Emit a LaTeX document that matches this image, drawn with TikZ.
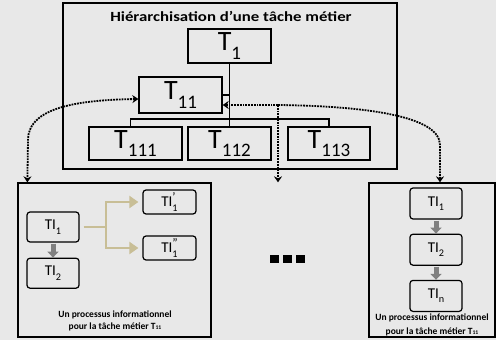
\documentclass[tikz,border=0pt]{standalone}
\usepackage{fontspec}
\setmainfont{Carlito}
\usepackage{graphicx}
\usetikzlibrary{arrows.meta, positioning}
\definecolor{bgGray}{RGB}{232, 232, 232}
\definecolor{flowTan}{RGB}{200, 190, 150}
\definecolor{flowGray}{RGB}{128, 128, 128}
\newcommand{\lowsub}[1]{\raisebox{-0.3em}{\scalebox{0.68}{#1}}}
\newcommand{\marksub}[2]{\rlap{\raisebox{0.3em}{\scalebox{0.85}{#1}}}\raisebox{-0.35em}{\scalebox{0.68}{#2}}}

\begin{document}
\begin{tikzpicture}[x=1pt, y=-1pt,
    task/.style={draw, line width=1.3pt, minimum width=83pt, minimum height=34pt,
      inner sep=0pt, font=\fontsize{28}{28}\selectfont},
    info/.style={draw, line width=1.2pt, rounded corners=3pt, minimum width=52pt,
      minimum height=30pt, inner sep=0pt, font=\fontsize{15}{15}\selectfont},
    link/.style={line width=1.3pt},
    hop/.style={line width=1.8pt, densely dotted, >={Stealth[length=6pt, width=8pt]}},
    stepdown/.style={line width=5pt, flowGray, -{Triangle[length=6pt, width=11pt]}},
    branch/.style={line width=2pt, flowTan, >={Triangle[length=9pt, width=12pt]}},
    caption/.style={font=\bfseries\fontsize{9.5}{12}\selectfont, align=center, inner sep=0pt}]
  \useasboundingbox (0,0) rectangle (496,340);
  \fill[bgGray] (0,0) rectangle (496,340);

  % hierarchy of the business task
  \draw[link] (63,3) rectangle (397,169);
  \node[font=\bfseries\fontsize{14}{16}\selectfont] (title) at (231,16)
    {\scalebox{1.2}[1]{Hiérarchisation d’une tâche métier}};
  \node[task] (T1) at (229.5,46) {T\lowsub{1}};
  \node[task, minimum height=36pt] (T11) at (180.5,95) {T\lowsub{11}};
  \node[task, minimum width=93pt, minimum height=33pt] (T111) at (135.5,143.5) {T\lowsub{111}};
  \node[task, minimum height=33pt] (T112) at (229.5,143.5) {T\lowsub{112}};
  \node[task, minimum width=82pt, minimum height=33pt] (T113) at (329,143.5) {T\lowsub{113}};
  \coordinate (bar) at (230,119);
  \draw[link] (T1.south) -- (T112.north);
  \draw[link] ([xshift=-5pt]T111.north) |- (bar) -| (T113.north);
  \draw[link] (T11.east) -- (T11.east -| T1.south);

  % informational processes
  \node[draw, line width=1.3pt, minimum width=193pt, minimum height=154pt] (procA) at (114.5,260) {};
  \node[draw, line width=1.3pt, minimum width=126pt, minimum height=154pt] (procB) at (432,260) {};

  \node[info] (TIa1) at (53,227) {TI\lowsub{1}};
  \node[info, below=15pt of TIa1] (TIa2) {TI\lowsub{2}};
  \node[info, minimum width=53pt, minimum height=24pt] (TIp) at (169.5,202) {TI\marksub{'}{1}};
  \node[info, minimum width=53pt, minimum height=24pt] (TIpp) at (169.5,248) {TI\marksub{''}{1}};
  \draw[stepdown] ([yshift=-1pt]TIa1.south) -- (TIa2.north);
  \coordinate (split) at (106,227);
  \draw[branch] ([xshift=4pt]TIa1.east) -- (split);
  \draw[branch, ->] (split) |- ([xshift=-4pt]TIp.west);
  \draw[branch, ->] (split) |- ([xshift=-4pt]TIpp.west);
  \node[caption] (capA) at (115,321) {Un processus informationnel\\pour la tâche métier T\scalebox{0.6}{11}};

  \node[info, minimum height=31pt] (TIb1) at (436,203.5) {TI\lowsub{1}};
  \node[info, minimum height=31pt, below=14pt of TIb1] (TIb2) {TI\lowsub{2}};
  \node[info, minimum height=31pt, below=14pt of TIb2] (TIbn) {TI\lowsub{n}};
  \draw[stepdown] ([yshift=-1pt]TIb1.south) -- (TIb2.north);
  \draw[stepdown] ([yshift=-1pt]TIb2.south) -- (TIbn.north);
  \node[caption, font=\bfseries\fontsize{9.5}{14}\selectfont] (capB) at (432,325)
    {Un processus informationnel\\pour la tâche métier T\scalebox{0.6}{11}};

  % more processes
  \foreach \k in {0,1,2}
    \fill (270+\k*13,255) rectangle ++(9,8);

  % links between tasks and processes
  \coordinate (fork) at (278,105);
  \draw[hop, ->] (fork) -- (fork -| T11.east);
  \draw[hop, ->] (fork) -- (fork |- procA.north);
  \draw[hop, ->] (fork) .. controls (360,106) and (440,115) .. (440,145) -- ([xshift=8pt]procB.north);
  \draw[hop, <->] ([yshift=-4pt]T11.west) .. controls (70,100) and (28,110) .. (28,140) -- ([xshift=10pt]procA.north west);
\end{tikzpicture}
\end{document}
